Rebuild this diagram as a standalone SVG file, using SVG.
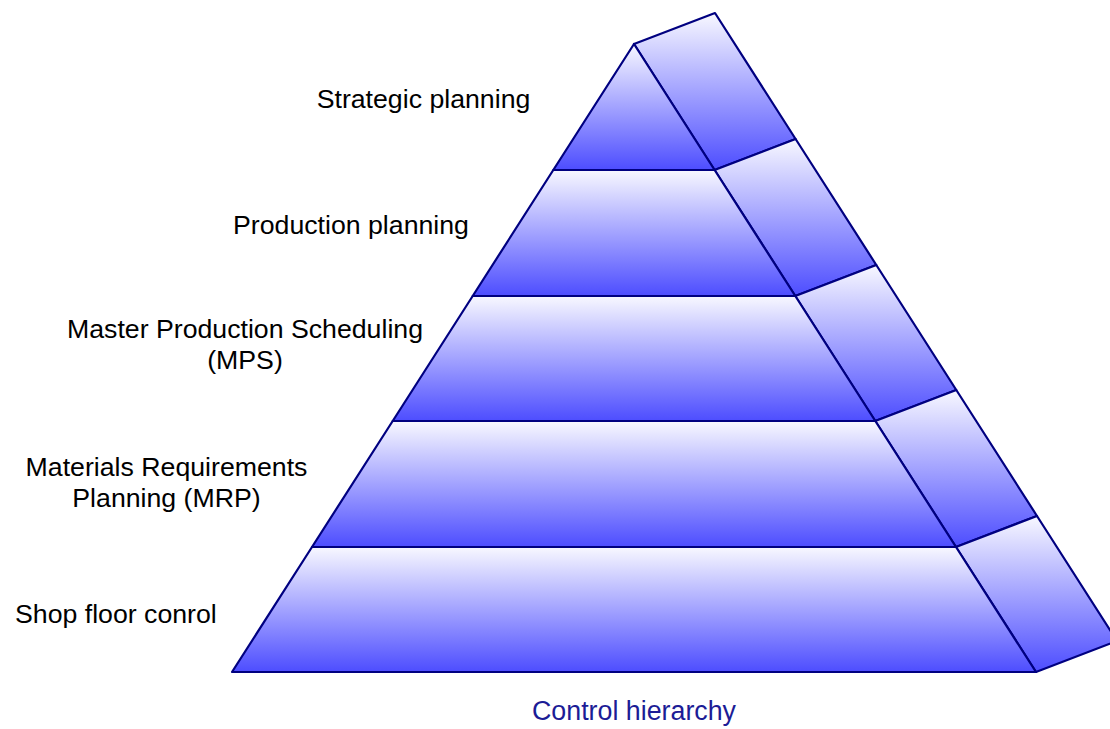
<svg xmlns="http://www.w3.org/2000/svg" width="1110" height="729" viewBox="0 0 1110 729">
  <defs>
    <linearGradient id="g" x1="0" y1="0" x2="0" y2="1">
      <stop offset="0" stop-color="#f8f8ff"/>
      <stop offset="1" stop-color="#4d4dff"/>
    </linearGradient>
    <style>
      .band{fill:url(#g);stroke:#000080;stroke-width:2.2;stroke-linejoin:round}
      .lbl{font-family:"Liberation Sans",Arial,sans-serif;font-size:26.7px;fill:#000}
      .cap{font-family:"Liberation Sans",Arial,sans-serif;font-size:26.8px;fill:#1c1c96}
    </style>
  </defs>
  <rect width="1110" height="729" fill="#fff"/>
  <g id="side-faces">
    <polygon class="band" points="634,44 715,13 795.6,139 714.6,170"/>
    <polygon class="band" points="714.6,170 795.6,139 876.3,265 795.3,296"/>
    <polygon class="band" points="795.3,296 876.3,265 956.3,390 875.3,421"/>
    <polygon class="band" points="875.3,421 956.3,390 1037,516 956,547"/>
    <polygon class="band" points="956,547 1037,516 1117,641 1036,672"/>
  </g>
  <g id="strategic-planning">
    <polygon class="band" points="634,44 714.6,170 553.3,170"/>
    <text class="lbl" x="423.5" y="108" text-anchor="middle">Strategic planning</text>
  </g>
  <g id="production-planning">
    <polygon class="band" points="553.3,170 714.6,170 795.3,296 472.7,296"/>
    <text class="lbl" x="351" y="234" text-anchor="middle">Production planning</text>
  </g>
  <g id="mps">
    <polygon class="band" points="472.7,296 795.3,296 875.3,421 392.7,421"/>
    <text class="lbl" x="245" y="338" text-anchor="middle">Master Production Scheduling</text>
    <text class="lbl" x="245" y="369" text-anchor="middle">(MPS)</text>
  </g>
  <g id="mrp">
    <polygon class="band" points="392.7,421 875.3,421 956,547 312,547"/>
    <text class="lbl" x="166.5" y="476" text-anchor="middle">Materials Requirements</text>
    <text class="lbl" x="166.5" y="507" text-anchor="middle">Planning (MRP)</text>
  </g>
  <g id="shop-floor">
    <polygon class="band" points="312,547 956,547 1036,672 232,672"/>
    <text class="lbl" x="15" y="623">Shop floor conrol</text>
  </g>
  <g id="connectors"/>
  <text class="cap" x="634" y="720" text-anchor="middle">Control hierarchy</text>
</svg>
